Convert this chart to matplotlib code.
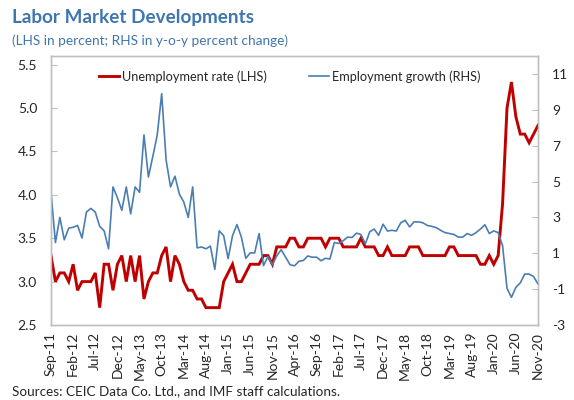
import matplotlib
matplotlib.use("Agg")
import matplotlib.pyplot as plt
import pandas as pd

months = pd.date_range("2011-09-01", periods=111, freq="MS").strftime("%b-%y").tolist()

unemployment = [
    3.3, 3.0, 3.1, 3.1, 3.0, 3.2, 2.9, 3.0, 3.0, 3.0,
    3.1, 2.7, 3.2, 3.2, 2.9, 3.2, 3.3, 3.0, 3.3, 3.0,
    3.3, 2.8, 3.0, 3.1, 3.1, 3.3, 3.4, 3.0, 3.3, 3.2,
    3.0, 2.9, 2.9, 2.8, 2.8, 2.7, 2.7, 2.7, 2.7, 3.0,
    3.1, 3.2, 3.0, 3.0, 3.1, 3.2, 3.2, 3.2, 3.3, 3.3,
    3.2, 3.4, 3.4, 3.4, 3.5, 3.5, 3.4, 3.4, 3.5, 3.5,
    3.5, 3.5, 3.4, 3.5, 3.5, 3.5, 3.4, 3.4, 3.4, 3.4,
    3.5, 3.4, 3.4, 3.4, 3.3, 3.3, 3.4, 3.3, 3.3, 3.3,
    3.3, 3.4, 3.4, 3.4, 3.3, 3.3, 3.3, 3.3, 3.3, 3.3,
    3.4, 3.4, 3.3, 3.3, 3.3, 3.3, 3.3, 3.2, 3.2, 3.3,
    3.2, 3.3, 3.9, 5.0, 5.3, 4.9, 4.7, 4.7, 4.6, 4.7,
    4.8,
]

employment_growth = [
    4.4, 1.6, 3.0, 1.75, 2.4, 2.45, 2.55, 1.85, 3.3, 3.5,
    3.3, 2.5, 2.25, 1.25, 4.7, 4.1, 3.4, 4.7, 3.2, 4.7,
    4.4, 7.6, 5.25, 6.4, 7.6, 9.9, 6.2, 4.7, 5.3, 4.3,
    3.85, 3.0, 4.7, 1.3, 1.35, 1.25, 1.4, 0.1, 2.25, 1.98,
    0.7, 1.98, 2.6, 1.9, 0.72, 1.02, 1.02, 2.1, 0.31, 0.82,
    0.36, 0.86, 1.2, 0.78, 0.36, 0.3, 0.55, 0.6, 0.85, 0.78,
    0.78, 0.58, 0.72, 0.68, 1.6, 1.55, 1.7, 1.9, 1.88, 2.12,
    2.05, 1.52, 2.2, 2.35, 2.0, 2.62, 2.24, 2.28, 2.24, 2.7,
    2.84, 2.47, 2.75, 2.75, 2.7, 2.55, 2.5, 2.43, 2.28, 2.15,
    2.1, 2.05, 1.9, 1.9, 2.1, 2.0, 2.15, 2.35, 2.59, 2.1,
    2.25, 2.15, 1.42, -0.95, -1.46, -0.9, -0.65, -0.16, -0.16, -0.3,
    -0.71,
]

left_ticks = [2.5, 3.0, 3.5, 4.0, 4.5, 5.0, 5.5]
right_ticks = [-3, -1, 1, 3, 5, 7, 9, 11]

FONT = ["Lato", "DejaVu Sans"]
plt.rcParams["font.family"] = FONT

RED = "#C00000"
BLUE = "#4A7EB3"
TITLE_BLUE = "#3F76AD"
GRID = "#BFBFBF"
TXT = "#262626"

fig = plt.figure(figsize=(5.74, 4.0), dpi=100)
ax = fig.add_axes([51 / 574, 1 - 325 / 400, (538 - 51) / 574, (325 - 56) / 400])
ax2 = ax.twinx()

x = list(range(len(months)))
l1, = ax.plot(x, unemployment, color=RED, lw=2.1, solid_joinstyle="miter", zorder=3,
              label="Unemployment rate (LHS)")
l2, = ax2.plot(x, employment_growth, color=BLUE, lw=1.2, zorder=2,
               label="Employment growth (RHS)")

ax.set_xlim(0, len(months) - 1)
ax.set_ylim(2.5, 5.6)
ax2.set_ylim(-3, 12)
ax.set_yticks(left_ticks)
ax.set_yticklabels([f"{v:.1f}" for v in left_ticks])
ax2.set_yticks(right_ticks)
ax2.set_yticklabels([str(v) for v in right_ticks])

ax.set_xticks(x[::5])
ax.set_xticklabels(months[::5], rotation=90)

for a in (ax, ax2):
    for s in a.spines.values():
        s.set_color(GRID)
        s.set_linewidth(1.0)
ax.tick_params(axis="y", direction="in", length=4, color=GRID, labelsize=10, labelcolor=TXT, pad=10)
ax2.tick_params(axis="y", direction="in", length=4, color=GRID, labelsize=10, labelcolor=TXT, pad=10)
ax.tick_params(axis="x", length=0, labelsize=10, labelcolor=TXT, pad=5)

ax2.legend(handles=[l1, l2], loc="upper center", ncol=2, frameon=False, fontsize=9.2,
           bbox_to_anchor=(0.49, 0.99), handlelength=1.6, handletextpad=0.2,
           columnspacing=3.3, labelcolor=TXT)

fig.text(12 / 574, 1 - 18 / 400, "Labor Market Developments", fontsize=13.6, fontweight="bold",
         color=TITLE_BLUE, va="center", ha="left")
fig.text(12 / 574, 1 - 41 / 400, "(LHS in percent; RHS in y-o-y percent change)", fontsize=9.8,
         color=TITLE_BLUE, va="center", ha="left")
fig.text(12 / 574, 1 - 391 / 400, "Sources: CEIC Data Co. Ltd., and IMF staff calculations.",
         fontsize=9.7, color=TXT, va="center", ha="left")

fig.savefig("out.png", dpi=100)
